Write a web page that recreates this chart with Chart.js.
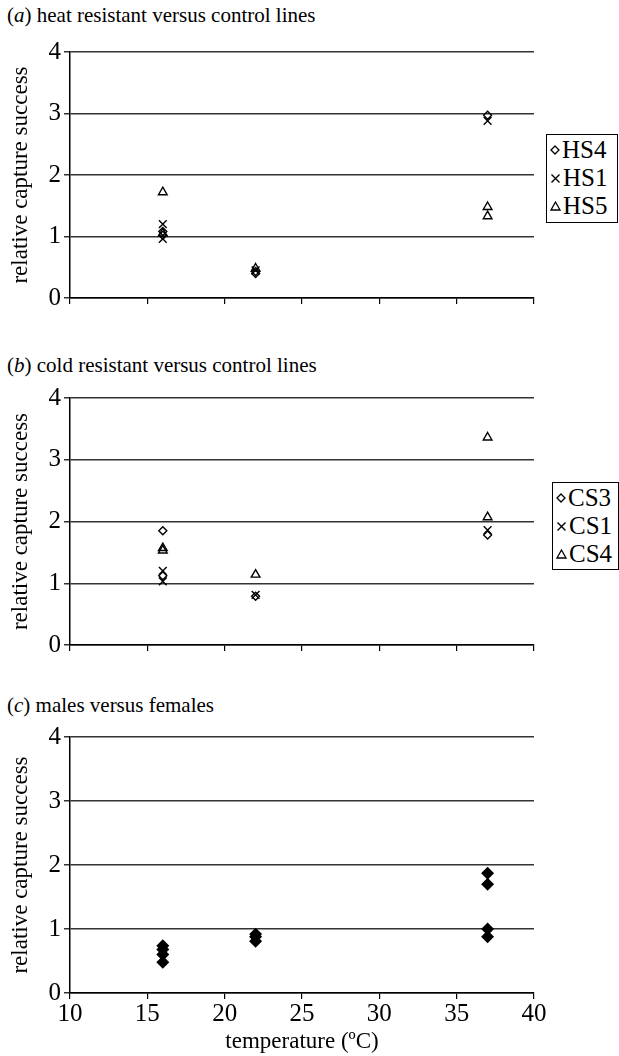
<!DOCTYPE html>
<html>
<head>
<meta charset="utf-8">
<script src="https://cdn.jsdelivr.net/npm/chart.js@4/dist/chart.umd.min.js"></script>
<style>
  html, body { margin:0; padding:0; background:#fff; }
  body { width:619px; height:1056px; position:relative; overflow:hidden; font-family:"Liberation Serif", "Times New Roman", serif; color:#000; }
  canvas { position:absolute; left:0; }
  .ttl { position:absolute; left:7px; font-size:21px; line-height:24px; white-space:nowrap; }
  .leg { position:absolute; border:1.5px solid #000; background:#fff; box-sizing:border-box; padding:1px 0 0 3px; }
  .leg div { font-size:25px; line-height:28px; height:28px; white-space:nowrap; }
  .leg svg { vertical-align:middle; margin-right:2px; position:relative; top:-2px; }
</style>
</head>
<body>
<div class="ttl" style="top:3px">(<i>a</i>) heat resistant versus control lines</div>
<div class="ttl" style="top:353px">(<i>b</i>) cold resistant versus control lines</div>
<div class="ttl" style="top:693px">(<i>c</i>) males versus females</div>

<canvas id="ca" width="619" height="282" style="top:34px;width:619px;height:282px"></canvas>
<canvas id="cb" width="619" height="283" style="top:380px;width:619px;height:283px"></canvas>
<canvas id="cc" width="619" height="337" style="top:719px;width:619px;height:337px"></canvas>

<div class="leg" id="lega" style="left:546px;top:134px;width:72px;height:89px"></div>
<div class="leg" id="legb" style="left:552px;top:482px;width:67px;height:88px"></div>

<script>
// ---- data ----
const xTicks = [10, 15, 20, 25, 30, 35, 40];
const yTicks = [0, 1, 2, 3, 4];

// (a) heat resistant versus control lines
const hs4X = [16, 16, 22, 22, 37];
const hs4Y = [1.08, 1.02, 0.40, 0.43, 2.97];
const hs1X = [16, 16, 22, 37];
const hs1Y = [1.20, 0.96, 0.45, 2.88];
const hs5X = [16, 16, 22, 37, 37];
const hs5Y = [1.72, 1.05, 0.48, 1.48, 1.33];

// (b) cold resistant versus control lines
const cs3X = [16, 16, 22, 37];
const cs3Y = [1.85, 1.12, 0.79, 1.78];
const cs1X = [16, 16, 22, 37];
const cs1Y = [1.20, 1.03, 0.81, 1.86];
const cs4X = [16, 16, 22, 37, 37];
const cs4Y = [1.57, 1.53, 1.14, 3.36, 2.07];

// (c) males versus females
const mfX = [16, 16, 16, 16, 22, 22, 22, 37, 37, 37, 37];
const mfY = [0.74, 0.68, 0.60, 0.48, 0.92, 0.88, 0.81, 1.87, 1.70, 1.00, 0.88];

const FONT = '"Liberation Serif", "Times New Roman", serif';

function pts(xs, ys) { return xs.map((x, i) => ({ x: x, y: ys[i] })); }

function ds(label, xs, ys, style, filled, r) {
  return {
    label: label,
    data: pts(xs, ys),
    pointStyle: style,
    pointRadius: r,
    pointHoverRadius: r,
    borderColor: '#000',
    backgroundColor: filled ? '#000' : 'rgba(255,255,255,0)',
    pointBorderWidth: 1.4,
    showLine: false
  };
}

function makeChart(id, datasets, showX) {
  return new Chart(document.getElementById(id), {
    type: 'scatter',
    data: { datasets: datasets },
    options: {
      responsive: false,
      animation: false,
      devicePixelRatio: 1,
      layout: { padding: { top: 18, right: 85, left: 0, bottom: 0 } },
      plugins: { legend: { display: false }, tooltip: { enabled: false } },
      scales: {
        x: {
          type: 'linear', min: 10, max: 40,
          afterBuildTicks: s => { s.ticks = xTicks.map(v => ({ value: v })); },
          afterFit: s => { s.height = showX ? 63 : 10; },
          grid: { drawOnChartArea: false, drawTicks: true, tickLength: 6, color: '#000', lineWidth: 1.2 },
          border: { color: '#000', width: 1.5 },
          ticks: { display: showX, color: '#000', padding: 0, font: { family: FONT, size: 25 } },
          title: { display: showX, text: 'temperature (ºC)', color: '#000', padding: { top: 0, bottom: 0 }, font: { family: FONT, size: 23 } }
        },
        y: {
          type: 'linear', min: 0, max: 4,
          afterBuildTicks: s => { s.ticks = yTicks.map(v => ({ value: v })); },
          afterFit: s => { s.width = 70; },
          grid: { drawTicks: true, tickLength: 6, color: '#333', lineWidth: 1.5 },
          border: { color: '#000', width: 1.5 },
          ticks: { color: '#000', padding: 3, font: { family: FONT, size: 25 } },
          title: { display: true, text: 'relative capture success', color: '#000', padding: { top: 7, bottom: 0 }, font: { family: FONT, size: 23 } }
        }
      }
    }
  });
}

makeChart('ca', [
  ds('HS4', hs4X, hs4Y, 'rectRot', false, 4),
  ds('HS1', hs1X, hs1Y, 'crossRot', false, 5.5),
  ds('HS5', hs5X, hs5Y, 'triangle', false, 5)
], false);

makeChart('cb', [
  ds('CS3', cs3X, cs3Y, 'rectRot', false, 4),
  ds('CS1', cs1X, cs1Y, 'crossRot', false, 5.5),
  ds('CS4', cs4X, cs4Y, 'triangle', false, 5)
], false);

makeChart('cc', [
  ds('males/females', mfX, mfY, 'rectRot', true, 5.5)
], true);

// legends (HTML)
const SYM = {
  diamond: '<svg width="10" height="10"><path d="M5 1 L9 5 L5 9 L1 5 Z" fill="none" stroke="#000" stroke-width="1.3"/></svg>',
  cross: '<svg width="11" height="11"><path d="M1.5 1.5 L9.5 9.5 M9.5 1.5 L1.5 9.5" stroke="#000" stroke-width="1.4"/></svg>',
  tri: '<svg width="11" height="10"><path d="M5.5 1 L10 9 L1 9 Z" fill="none" stroke="#000" stroke-width="1.3"/></svg>'
};
function legend(id, names) {
  const syms = [SYM.diamond, SYM.cross, SYM.tri];
  document.getElementById(id).innerHTML = names.map((n, i) => '<div>' + syms[i] + n + '</div>').join('');
}
legend('lega', ['HS4', 'HS1', 'HS5']);
legend('legb', ['CS3', 'CS1', 'CS4']);
</script>
</body>
</html>
